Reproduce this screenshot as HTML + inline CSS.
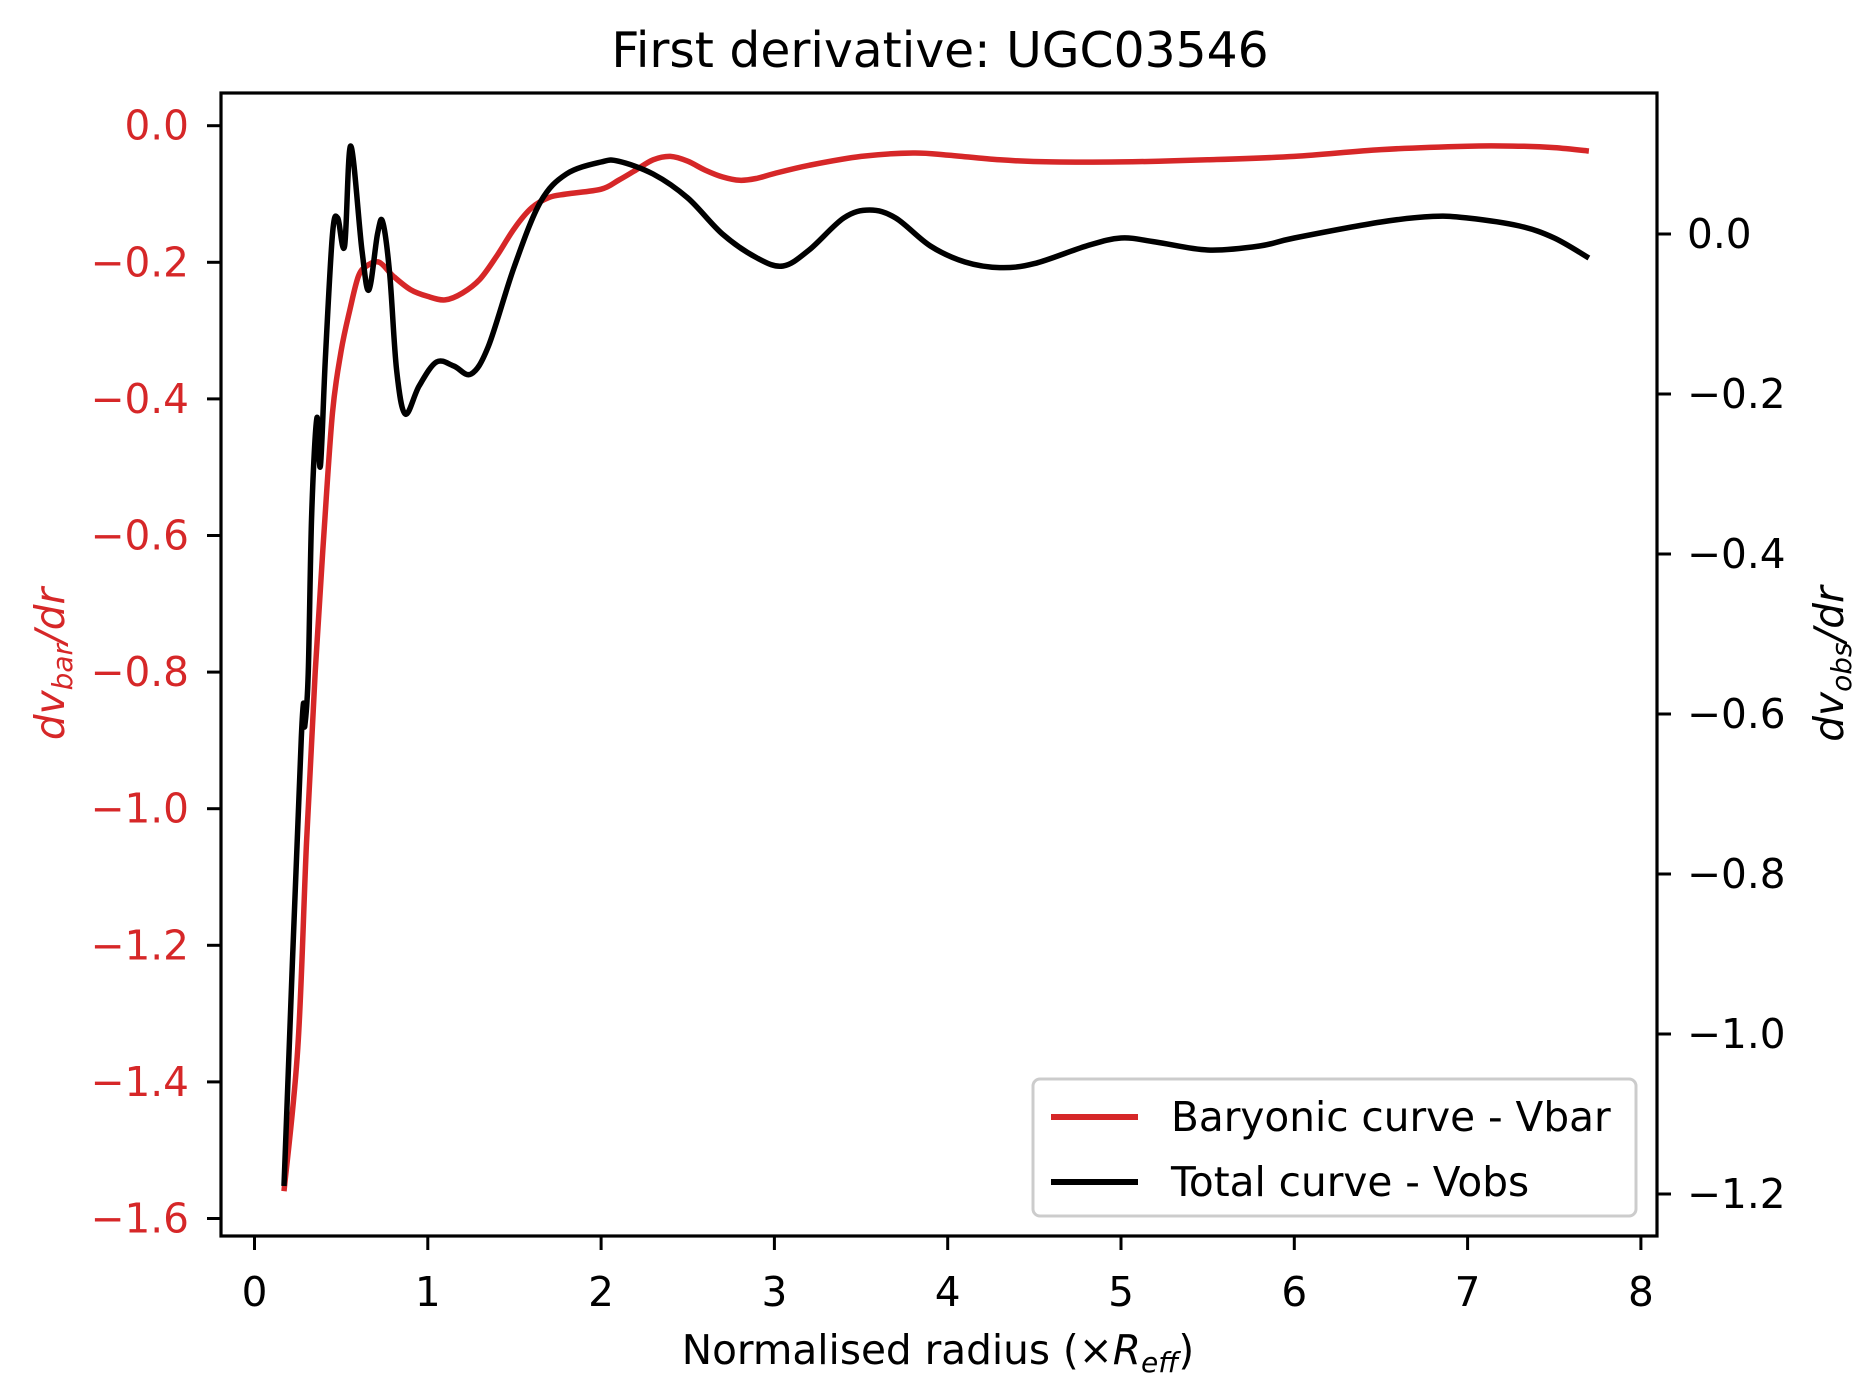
<!DOCTYPE html>
<html><head><meta charset="utf-8"><style>
html,body{margin:0;padding:0;background:#fff;}
svg{display:block;font-family:"DejaVu Sans","Liberation Sans",sans-serif;}
</style></head><body>
<svg id="chart" width="1872" height="1397" viewBox="0 0 1872 1397">
<rect x="0" y="0" width="1872" height="1397" fill="#fff"/>
<text x="940" y="67" font-size="48.75" text-anchor="middle">First derivative: UGC03546</text>
<g id="plot"></g>
<rect x="221" y="93" width="1436" height="1143" fill="none" stroke="#000" stroke-width="3.2"/>
<g id="ticks"></g>
<text transform="translate(64,664) rotate(-90)" font-size="40.6" text-anchor="middle" fill="#d62728"><tspan font-style="italic">dv</tspan><tspan font-style="italic" font-size="28" dy="8">bar</tspan><tspan font-style="italic" dy="-8">/dr</tspan></text>
<text transform="translate(1843,664) rotate(-90)" font-size="40.6" text-anchor="middle" fill="#000"><tspan font-style="italic">dv</tspan><tspan font-style="italic" font-size="28" dy="8">obs</tspan><tspan font-style="italic" dy="-8">/dr</tspan></text>
<text x="938" y="1364" font-size="40.6" text-anchor="middle">Normalised radius (×<tspan font-style="italic">R</tspan><tspan font-style="italic" font-size="28" dy="8">eff</tspan><tspan dy="-8">)</tspan></text>
<g>
<rect x="1033" y="1079" width="603" height="137" rx="7" fill="#fff" fill-opacity="0.8" stroke="#cccccc" stroke-width="3"/>
<line x1="1051" y1="1117" x2="1138" y2="1117" stroke="#d62728" stroke-width="6"/>
<text x="1171" y="1131" font-size="40.6">Baryonic curve - Vbar</text>
<line x1="1051" y1="1182" x2="1138" y2="1182" stroke="#000" stroke-width="6"/>
<text x="1171" y="1196" font-size="40.6">Total curve - Vobs</text>
</g>
</svg>
<script>
const xTicks = [0,1,2,3,4,5,6,7,8];
const leftTicks = [0.0,-0.2,-0.4,-0.6,-0.8,-1.0,-1.2,-1.4,-1.6];
const rightTicks = [0.0,-0.2,-0.4,-0.6,-0.8,-1.0,-1.2];
const barX = [0.17,0.25,0.3,0.35,0.4,0.45,0.5,0.55,0.6,0.65,0.72,0.8,0.9,1.0,1.1,1.2,1.3,1.4,1.5,1.6,1.7,1.8,2.0,2.1,2.2,2.3,2.4,2.5,2.6,2.7,2.8,2.9,3.0,3.2,3.5,3.8,4.0,4.3,4.6,5.0,5.5,6.0,6.5,7.0,7.3,7.5,7.7];
const barY = [-1.56,-1.35,-1.05,-0.8,-0.6,-0.42,-0.33,-0.27,-0.22,-0.205,-0.2,-0.22,-0.24,-0.25,-0.255,-0.245,-0.225,-0.19,-0.15,-0.12,-0.105,-0.1,-0.093,-0.08,-0.065,-0.05,-0.045,-0.052,-0.065,-0.075,-0.08,-0.077,-0.07,-0.058,-0.045,-0.04,-0.043,-0.05,-0.053,-0.053,-0.05,-0.045,-0.035,-0.03,-0.03,-0.032,-0.037];
const obsX = [0.17,0.27,0.29,0.31,0.33,0.36,0.38,0.41,0.45,0.48,0.52,0.555,0.62,0.66,0.71,0.74,0.78,0.82,0.87,0.95,1.05,1.15,1.25,1.35,1.5,1.65,1.8,2.0,2.1,2.3,2.5,2.7,2.9,3.05,3.2,3.4,3.55,3.7,3.9,4.1,4.3,4.5,4.8,5.0,5.2,5.5,5.8,6.0,6.5,6.8,7.0,7.3,7.5,7.7];
const obsY = [-1.19,-0.63,-0.615,-0.55,-0.35,-0.23,-0.29,-0.15,0.0,0.02,-0.015,0.11,-0.02,-0.07,0.0,0.015,-0.05,-0.17,-0.225,-0.19,-0.16,-0.165,-0.175,-0.14,-0.04,0.04,0.075,0.09,0.091,0.075,0.045,0.0,-0.03,-0.04,-0.02,0.02,0.03,0.02,-0.015,-0.035,-0.042,-0.037,-0.015,-0.005,-0.01,-0.02,-0.015,-0.005,0.015,0.022,0.02,0.01,-0.005,-0.03];

const NS='http://www.w3.org/2000/svg';
const X = v => 254.5 + v*173.3;
const YL = v => 125.7 - v*683;
const YR = v => 234 - v*800;
function mk(tag, attrs, parent){const e=document.createElementNS(NS,tag);for(const k in attrs)e.setAttribute(k,attrs[k]);parent.appendChild(e);return e;}
function fmt(v){return (v<0?'\u2212':'')+Math.abs(v).toFixed(1);}
function smooth(pts){
  let d='M'+pts[0][0].toFixed(1)+','+pts[0][1].toFixed(1);
  for(let i=0;i<pts.length-1;i++){
    const p0=pts[Math.max(0,i-1)],p1=pts[i],p2=pts[i+1],p3=pts[Math.min(pts.length-1,i+2)];
    const c1=[p1[0]+(p2[0]-p0[0])/6,p1[1]+(p2[1]-p0[1])/6];
    const c2=[p2[0]-(p3[0]-p1[0])/6,p2[1]-(p3[1]-p1[1])/6];
    d+=' C'+c1[0].toFixed(1)+','+c1[1].toFixed(1)+' '+c2[0].toFixed(1)+','+c2[1].toFixed(1)+' '+p2[0].toFixed(1)+','+p2[1].toFixed(1);
  }
  return d;
}
const ticks=document.getElementById('ticks');
xTicks.forEach(v=>{
  const l=mk('line',{x1:X(v),x2:X(v),y1:1236,y2:1250,stroke:'#000','stroke-width':3},ticks);
  
  
  const t=mk('text',{x:X(v),y:1306,'font-size':40.6,'text-anchor':'middle'},ticks);
  t.textContent=String(v);
  
  
});
leftTicks.forEach(v=>{
  const l=mk('line',{x1:207,x2:221,y1:YL(v),y2:YL(v),stroke:'#000','stroke-width':3},ticks);
  
  
  const t=mk('text',{x:189,y:YL(v)+14,'font-size':40.6,'text-anchor':'end',fill:'#d62728'},ticks);
  t.textContent=fmt(v);
  
  
});
rightTicks.forEach(v=>{
  const l=mk('line',{x1:1657,x2:1671,y1:YR(v),y2:YR(v),stroke:'#000','stroke-width':3},ticks);
  
  
  const t=mk('text',{x:1687,y:YR(v)+14,'font-size':40.6,'text-anchor':'start'},ticks);
  t.textContent=fmt(v);
  
  
});
const plot=document.getElementById('plot');
const pb=mk('path',{d:smooth(barX.map((x,i)=>[X(x),YL(barY[i])])),fill:'none',stroke:'#d62728','stroke-width':5.5,'stroke-linejoin':'round'},plot);


const po=mk('path',{d:smooth(obsX.map((x,i)=>[X(x),YR(obsY[i])])),fill:'none',stroke:'#000','stroke-width':5.5,'stroke-linejoin':'round'},plot);


</script>
</body></html>
